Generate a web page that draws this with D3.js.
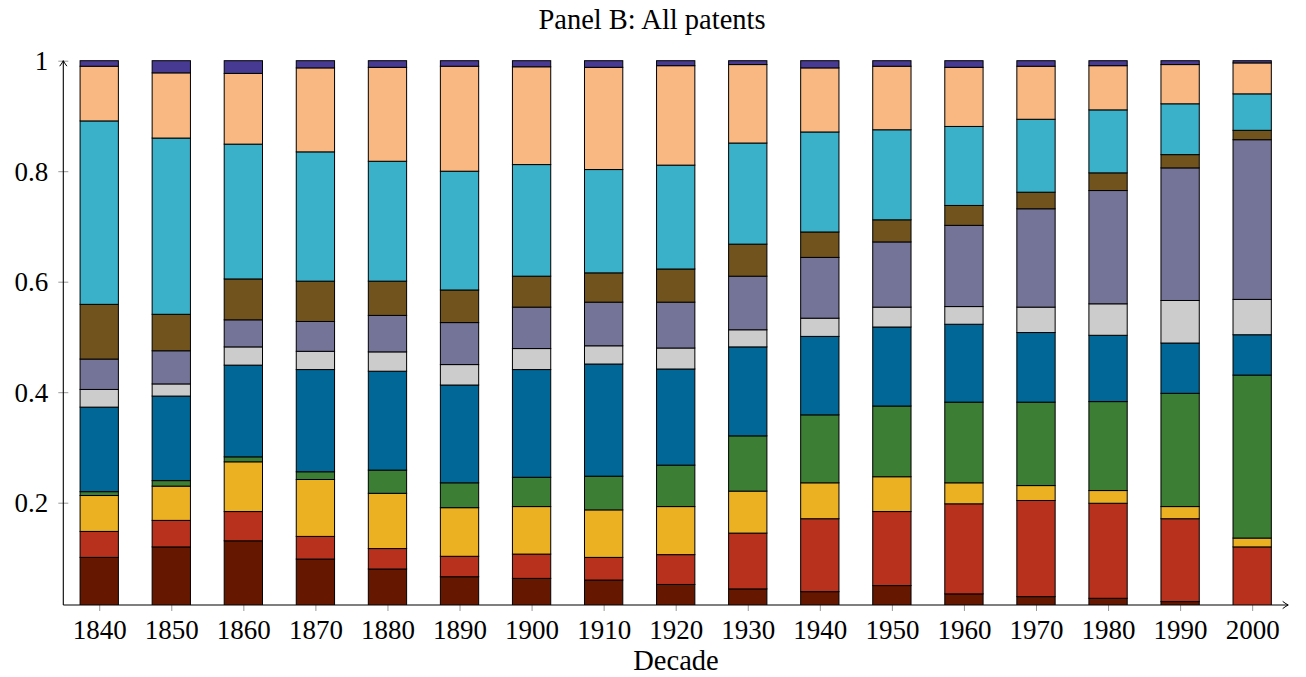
<!DOCTYPE html>
<html lang="en">
<head>
<meta charset="UTF-8">
<title>Panel B: All patents</title>
<style>
  body { margin: 0; background: #fff; }
  svg text { font-family: "Liberation Serif", "Times New Roman", serif; fill: #000; }
</style>
</head>
<body>
<svg id="chart" width="1306" height="677"></svg>
<script src="https://cdn.jsdelivr.net/npm/d3@7"></script>
<script>
/* global d3 */

// decades on the x axis
var decades = [1840, 1850, 1860, 1870, 1880, 1890, 1900, 1910, 1920, 1930, 1940, 1950, 1960, 1970, 1980, 1990, 2000];

// share of patents per category, bottom of the stack first
var darkred = [0.101, 0.120, 0.131, 0.098, 0.080, 0.066, 0.063, 0.060, 0.052, 0.044, 0.039, 0.050, 0.035, 0.030, 0.027, 0.021, 0.008];
var red     = [0.047, 0.048, 0.053, 0.041, 0.037, 0.037, 0.044, 0.041, 0.054, 0.101, 0.132, 0.134, 0.163, 0.174, 0.172, 0.150, 0.112];
var yellow  = [0.065, 0.062, 0.090, 0.103, 0.100, 0.088, 0.086, 0.086, 0.087, 0.076, 0.065, 0.063, 0.038, 0.027, 0.023, 0.022, 0.016];
var green   = [0.007, 0.010, 0.009, 0.014, 0.042, 0.045, 0.053, 0.061, 0.075, 0.100, 0.123, 0.128, 0.146, 0.151, 0.161, 0.205, 0.295];
var blue    = [0.153, 0.153, 0.166, 0.185, 0.179, 0.177, 0.195, 0.203, 0.174, 0.161, 0.142, 0.143, 0.141, 0.126, 0.120, 0.091, 0.073];
var gray    = [0.032, 0.022, 0.033, 0.033, 0.035, 0.037, 0.038, 0.033, 0.038, 0.031, 0.033, 0.036, 0.032, 0.046, 0.057, 0.077, 0.064];
var slate   = [0.055, 0.060, 0.049, 0.054, 0.066, 0.076, 0.075, 0.079, 0.083, 0.097, 0.110, 0.118, 0.147, 0.178, 0.205, 0.240, 0.289];
var brown   = [0.099, 0.066, 0.074, 0.073, 0.062, 0.059, 0.056, 0.053, 0.060, 0.058, 0.046, 0.040, 0.036, 0.030, 0.032, 0.024, 0.017];
var cyan    = [0.332, 0.319, 0.244, 0.234, 0.217, 0.215, 0.202, 0.187, 0.188, 0.183, 0.181, 0.163, 0.143, 0.132, 0.114, 0.092, 0.066];
var peach   = [0.099, 0.118, 0.128, 0.152, 0.170, 0.190, 0.177, 0.185, 0.180, 0.142, 0.116, 0.115, 0.107, 0.096, 0.080, 0.071, 0.056];
var purple  = [0.010, 0.022, 0.023, 0.013, 0.012, 0.010, 0.011, 0.012, 0.009, 0.007, 0.013, 0.010, 0.012, 0.010, 0.009, 0.007, 0.004];

var yTicks = [0.2, 0.4, 0.6, 0.8, 1];

var seriesKeys = ["darkred", "red", "yellow", "green", "blue", "gray", "slate", "brown", "cyan", "peach", "purple"];
var seriesValues = [darkred, red, yellow, green, blue, gray, slate, brown, cyan, peach, purple];
var colors = ["#661700", "#b7311d", "#ecb122", "#3b7e34", "#006796", "#cccccc", "#747499", "#71531d", "#3ab0c9", "#f9b882", "#463a92"];

// one row per decade for d3.stack
var table = decades.map(function(d, i) {
    var row = { decade: d };
    seriesKeys.forEach(function(k, j) { row[k] = seriesValues[j][i]; });
    return row;
});

var svg = d3.select("#chart");
var axisY = 605, axisX = 63.3;

var x = d3.scaleLinear().domain([1835, 2005]).range([63.2, 1288.2]);
var y = d3.scaleLinear().domain([0, 1]).range([613.2, 60.7]);
var color = d3.scaleOrdinal().domain(seriesKeys).range(colors);
var barWidth = 38.3;

var stacked = d3.stack().keys(seriesKeys)(table);

// bars start at 0 but the axis cuts them a little above
svg.append("clipPath").attr("id", "plot-clip")
  .append("rect").attr("x", 0).attr("y", 0).attr("width", 1306).attr("height", axisY);

var bars = svg.append("g").attr("clip-path", "url(#plot-clip)");

bars.selectAll("g")
  .data(stacked)
  .join("g")
    .attr("fill", d => color(d.key))
  .selectAll("rect")
  .data(d => d)
  .join("rect")
    .attr("x", d => x(d.data.decade) - barWidth / 2)
    .attr("y", d => y(d[1]))
    .attr("width", barWidth)
    .attr("height", d => y(d[0]) - y(d[1]))
    .attr("stroke", "#000")
    .attr("stroke-width", 1);

// y axis
var yAxis = svg.append("g")
    .attr("transform", "translate(" + axisX + ",0)")
    .call(d3.axisLeft(y).tickValues(yTicks).tickSize(5).tickPadding(10)
        .tickFormat(d => d === 1 ? "1" : d3.format(".1f")(d)));
yAxis.select(".domain").remove();
yAxis.selectAll(".tick line").attr("x1", 5).attr("stroke", "#999");
yAxis.selectAll(".tick text")
    .attr("font-size", 27)
    .attr("font-family", null)
    .attr("dy", "0.33em");

// x axis
var xAxis = svg.append("g")
    .attr("transform", "translate(0," + axisY + ")")
    .call(d3.axisBottom(x).tickValues(decades).tickSize(6).tickPadding(9)
        .tickFormat(d3.format("d")));
xAxis.select(".domain").remove();
xAxis.selectAll(".tick line").attr("stroke", "#999");
xAxis.selectAll(".tick text")
    .attr("font-size", 27)
    .attr("font-family", null);

// axis lines with arrow tips
svg.append("defs").append("marker")
    .attr("id", "tip")
    .attr("viewBox", "-7 -5 8 10")
    .attr("refX", 0).attr("refY", 0)
    .attr("markerWidth", 8).attr("markerHeight", 10)
    .attr("markerUnits", "userSpaceOnUse")
    .attr("orient", "auto")
  .append("path")
    .attr("d", "M-5.5,-3.6 Q-1.8,-0.8 0,0 Q-1.8,0.8 -5.5,3.6")
    .attr("fill", "none")
    .attr("stroke", "#000")
    .attr("stroke-width", 1);

svg.append("line")
    .attr("x1", axisX).attr("y1", axisY)
    .attr("x2", axisX).attr("y2", y(1))
    .attr("stroke", "#000").attr("stroke-width", 1.1)
    .attr("marker-end", "url(#tip)");

svg.append("line")
    .attr("x1", axisX).attr("y1", axisY)
    .attr("x2", x(2005)).attr("y2", axisY)
    .attr("stroke", "#000").attr("stroke-width", 1.1)
    .attr("marker-end", "url(#tip)");

// title and axis label
svg.append("text")
    .attr("x", 652).attr("y", 29)
    .attr("text-anchor", "middle")
    .attr("font-size", 28.5)
    .text("Panel B: All patents");

svg.append("text")
    .attr("x", 676).attr("y", 670)
    .attr("text-anchor", "middle")
    .attr("font-size", 28.5)
    .text("Decade");
</script>
</body>
</html>
